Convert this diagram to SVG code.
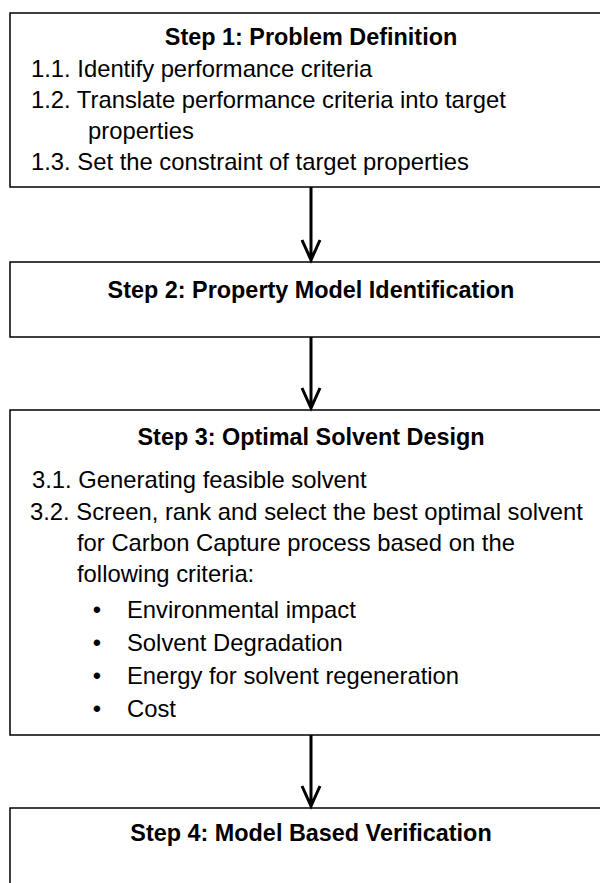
<svg xmlns="http://www.w3.org/2000/svg" width="600" height="883" viewBox="0 0 600 883">
<style>
.box{fill:#fff;stroke:#000;stroke-width:1.5}
.t{font-family:"Liberation Sans",Arial,sans-serif;font-size:23.8px;fill:#000}
.h{font-weight:bold;font-size:23.4px;text-anchor:middle}
.arr{stroke:#000;stroke-width:3;fill:none}
</style>
<rect width="600" height="883" fill="#fff"/>
<g id="step1">
<rect class="box" x="10" y="13" width="604" height="174"/>
<text class="t h" x="311" y="45">Step 1: Problem Definition</text>
<text class="t" x="31" y="77">1.1. Identify performance criteria</text>
<text class="t" x="31" y="108">1.2. Translate performance criteria into target</text>
<text class="t" x="88" y="139">properties</text>
<text class="t" x="31" y="170">1.3. Set the constraint of target properties</text>
</g>
<g id="step2">
<rect class="box" x="10" y="262" width="604" height="75"/>
<text class="t h" x="311" y="298">Step 2: Property Model Identification</text>
</g>
<g id="step3">
<rect class="box" x="10" y="410" width="604" height="325"/>
<text class="t h" x="311" y="445">Step 3: Optimal Solvent Design</text>
<text class="t" x="32" y="488">3.1. Generating feasible solvent</text>
<text class="t" x="30" y="520">3.2. Screen, rank and select the best optimal solvent</text>
<text class="t" x="77" y="551">for Carbon Capture process based on the</text>
<text class="t" x="77" y="582">following criteria:</text>
<text class="t" x="92.8" y="618">•</text>
<text class="t" x="127" y="618">Environmental impact</text>
<text class="t" x="92.8" y="651">•</text>
<text class="t" x="127" y="651">Solvent Degradation</text>
<text class="t" x="92.8" y="684">•</text>
<text class="t" x="127" y="684">Energy for solvent regeneration</text>
<text class="t" x="92.8" y="717">•</text>
<text class="t" x="127" y="717">Cost</text>
</g>
<g id="step4">
<rect class="box" x="10" y="808" width="604" height="100"/>
<text class="t h" x="311" y="841">Step 4: Model Based Verification</text>
</g>
<g id="connectors">
<path class="arr" d="M311 187V260M302 240L311 260L320 240"/>
<path class="arr" d="M311 337V408M302 388L311 408L320 388"/>
<path class="arr" d="M311 735V806M302 786L311 806L320 786"/>
</g>
</svg>
